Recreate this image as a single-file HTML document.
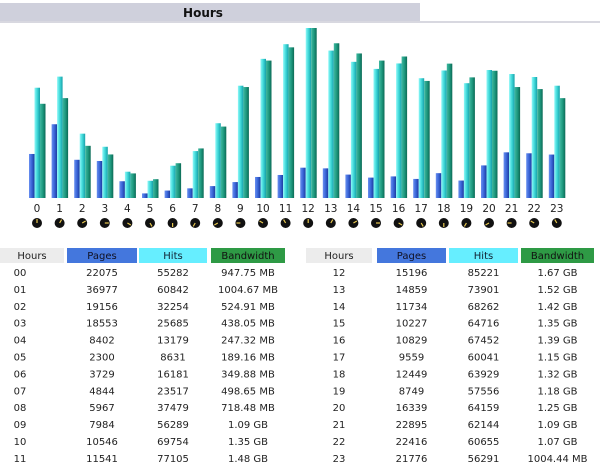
<!DOCTYPE html>
<html><head><meta charset="utf-8"><style>
body{margin:0;background:#fff;width:600px;height:471px;overflow:hidden;font-family:"DejaVu Sans","Liberation Sans",sans-serif}
svg{position:absolute;left:0;top:0}
</style></head><body>
<svg width="600" height="471">
<defs>
<linearGradient id="gp" x1="0" x2="1"><stop offset="0" stop-color="#6a90f0"/><stop offset="0.5" stop-color="#3a66d8"/><stop offset="1" stop-color="#1c3aa0"/></linearGradient>
<linearGradient id="gh" x1="0" x2="1"><stop offset="0" stop-color="#8ff8f8"/><stop offset="0.5" stop-color="#3ed8d8"/><stop offset="1" stop-color="#18a0a8"/></linearGradient>
<linearGradient id="gb" x1="0" x2="1"><stop offset="0" stop-color="#40b8a0"/><stop offset="0.5" stop-color="#1e9a80"/><stop offset="1" stop-color="#0c6a55"/></linearGradient>
</defs>
<rect x="0" y="3" width="420" height="19" fill="#cfd0dc"/>
<rect x="0" y="21" width="600" height="2" fill="#d8d8e0"/>
<text x="203" y="17" text-anchor="middle" font-size="12" font-weight="bold" fill="#111">Hours</text>
<g id="bars"></g><g id="labels"></g>
<g id="tables" font-size="10" fill="#222"></g>
</svg>
<script>
const hours=["00","01","02","03","04","05","06","07","08","09","10","11","12","13","14","15","16","17","18","19","20","21","22","23"];
const pages=[22075,36977,19156,18553,8402,2300,3729,4844,5967,7984,10546,11541,15196,14859,11734,10227,10829,9559,12449,8749,16339,22895,22416,21776];
const hits=[55282,60842,32254,25685,13179,8631,16181,23517,37479,56289,69754,77105,85221,73901,68262,64716,67452,60041,63929,57556,64159,62144,60655,56291];
const bwMB=[947.75,1004.67,524.91,438.05,247.32,189.16,349.88,498.65,718.48,1116.16,1382.4,1515.52,1710.08,1556.48,1454.08,1382.4,1423.36,1177.6,1351.68,1213.44,1280,1116.16,1095.68,1004.44];
const bwLabel=["947.75 MB","1004.67 MB","524.91 MB","438.05 MB","247.32 MB","189.16 MB","349.88 MB","498.65 MB","718.48 MB","1.09 GB","1.35 GB","1.48 GB","1.67 GB","1.52 GB","1.42 GB","1.35 GB","1.39 GB","1.15 GB","1.32 GB","1.18 GB","1.25 GB","1.09 GB","1.07 GB","1004.44 MB"];
const NS="http://www.w3.org/2000/svg";
const base=198,H=170,maxH=Math.max(...hits),maxB=Math.max(...bwMB);
const gx=i=>29+i*22.6;
const yh=v=>v/maxH*H, yb=v=>v/maxB*H;
function mk(tag,at,parent){const e=document.createElementNS(NS,tag);for(const k in at)e.setAttribute(k,at[k]);parent.appendChild(e);return e;}
const bars=document.getElementById('bars'),labs=document.getElementById('labels');
hours.forEach((h,i)=>{
 const x=gx(i);
 let r=mk('rect',{x:x,y:base-yh(pages[i]),width:5.5,height:yh(pages[i]),fill:'url(#gp)'},bars);
 
 
 r=mk('rect',{x:x+5.5,y:base-yh(hits[i]),width:5.5,height:yh(hits[i]),fill:'url(#gh)'},bars);
 
 
 r=mk('rect',{x:x+11,y:base-yb(bwMB[i]),width:5.5,height:yb(bwMB[i]),fill:'url(#gb)'},bars);
 
 
 const t=mk('text',{x:x+8,y:212,'text-anchor':'middle','font-size':'10.5',fill:'#222'},labs);
 t.textContent=String(i);
 
 
 const c=mk('circle',{cx:x+8,cy:223,r:5,fill:'#111'},labs);
 
 
 const a=(i%12)/12*2*Math.PI;
 const l=mk('line',{x1:x+8,y1:223,x2:x+8+4*Math.sin(a),y2:223-4*Math.cos(a),stroke:'#e8c850','stroke-width':1.2},labs);
 
 
});
const tb=document.getElementById('tables');
const cols=[[[0,64,'#ececec','#222'],[67,137,'#4477dd','#112'],[139,207,'#66eeff','#123'],[211,285,'#2e9a45','#111']],
[[306,372,'#ececec','#222'],[377,446,'#4477dd','#112'],[449,518,'#66eeff','#123'],[521,594,'#2e9a45','#111']]];
const heads=['Hours','Pages','Hits','Bandwidth'];
[0,1].forEach(s=>{
 cols[s].forEach((c,j)=>{
  const r=mk('rect',{x:c[0],y:248,width:c[1]-c[0],height:15,fill:c[2]},tb);
  
  
  const t=mk('text',{x:(c[0]+c[1])/2,y:259,'text-anchor':'middle',fill:c[3]},tb);
  t.textContent=heads[j];
  
  
 });
 for(let k=0;k<12;k++){
  const i=s*12+k, y=276+k*16.9;
  const vals=[hours[i],pages[i],hits[i],bwLabel[i]];
  cols[s].forEach((c,j)=>{
   const t=mk('text',{x:(c[0]+c[1])/2+(j==0&&s==0?-12:0),y:y,'text-anchor':'middle'},tb);
   t.textContent=vals[j];
   
   
  });
 }
});
</script>
</body></html>
